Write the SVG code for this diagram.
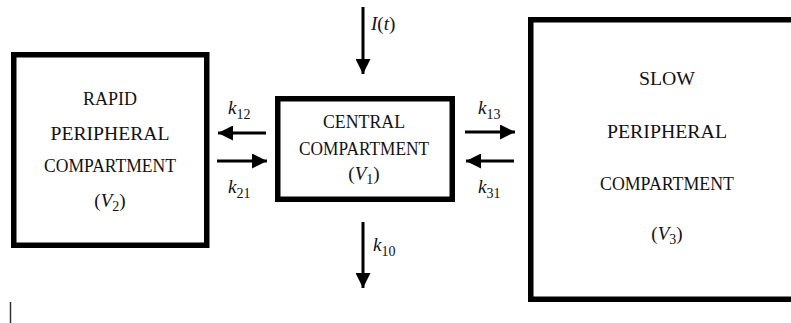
<svg xmlns="http://www.w3.org/2000/svg" width="791" height="323" viewBox="0 0 791 323" font-family="Liberation Serif, DejaVu Serif, serif">
<defs>
<marker id="ah" markerWidth="5" markerHeight="5" refX="5" refY="2.5" orient="auto" markerUnits="strokeWidth">
<path d="M0,0 L5,2.5 L0,5 Z" fill="#000"/>
</marker>
<style>
.box{fill:#fff;stroke:#000;stroke-width:5.5}
.t{font-size:19px;fill:#111;text-anchor:middle}
.lbl{font-size:19px;fill:#111}
.sub{font-size:14px;font-style:normal}
.i{font-style:italic}
.arr{stroke:#000;stroke-width:3;fill:none;marker-end:url(#ah)}
</style>
</defs>
<rect width="791" height="323" fill="#fff"/>
<g id="rapid" font-family="Liberation Serif, serif">
<rect class="box" x="13.75" y="54.75" width="193" height="190.5"/>
<text class="t" font-family="Liberation Serif" x="110" y="105" textLength="54" lengthAdjust="spacingAndGlyphs">RAPID</text>
<text class="t" font-family="Liberation Serif" x="110" y="140" textLength="119" lengthAdjust="spacingAndGlyphs">PERIPHERAL</text>
<text class="t" font-family="Liberation Serif" x="110" y="172" textLength="132" lengthAdjust="spacingAndGlyphs">COMPARTMENT</text>
<text class="t" font-family="Liberation Serif" x="110" y="207">(<tspan class="i">V</tspan><tspan font-size="14" dy="4">2</tspan><tspan dy="-4">)</tspan></text>
</g>
<g id="central" font-family="Liberation Serif, serif">
<rect class="box" x="277.75" y="98.75" width="174.5" height="100.5"/>
<text class="t" font-family="Liberation Serif" x="364" y="128" textLength="82" lengthAdjust="spacingAndGlyphs">CENTRAL</text>
<text class="t" font-family="Liberation Serif" x="364" y="155" textLength="130" lengthAdjust="spacingAndGlyphs">COMPARTMENT</text>
<text class="t" font-family="Liberation Serif" x="364" y="180">(<tspan class="i">V</tspan><tspan font-size="14" dy="4">1</tspan><tspan dy="-4">)</tspan></text>
</g>
<g id="slow" font-family="Liberation Serif, serif">
<rect class="box" x="530.75" y="19.75" width="280" height="279.5"/>
<text class="t" font-family="Liberation Serif" x="667" y="85" textLength="56" lengthAdjust="spacingAndGlyphs">SLOW</text>
<text class="t" font-family="Liberation Serif" x="667" y="138" textLength="120" lengthAdjust="spacingAndGlyphs">PERIPHERAL</text>
<text class="t" font-family="Liberation Serif" x="667" y="190" textLength="134" lengthAdjust="spacingAndGlyphs">COMPARTMENT</text>
<text class="t" font-family="Liberation Serif" x="667" y="240">(<tspan class="i">V</tspan><tspan font-size="14" dy="4">3</tspan><tspan dy="-4">)</tspan></text>
</g>
<g id="connectors">
<line class="arr" x1="363" y1="7" x2="363" y2="74"/>
<line class="arr" x1="363" y1="222" x2="363" y2="288"/>
<line class="arr" x1="266" y1="133" x2="218" y2="133"/>
<line class="arr" x1="217" y1="161" x2="267" y2="161"/>
<line class="arr" x1="465" y1="132" x2="515" y2="132"/>
<line class="arr" x1="514" y1="161" x2="466" y2="161"/>
<line x1="10.5" y1="302" x2="10.5" y2="323" stroke="#333" stroke-width="1.5"/>
</g>
<g id="labels" font-family="Liberation Serif, serif">
<text class="lbl" font-family="Liberation Serif" x="371" y="30"><tspan class="i">I</tspan>(<tspan class="i">t</tspan>)</text>
<text class="lbl" font-family="Liberation Serif" x="373" y="251"><tspan class="i">k</tspan><tspan class="sub" dy="5">10</tspan></text>
<text class="lbl" font-family="Liberation Serif" x="228" y="114"><tspan class="i">k</tspan><tspan class="sub" dy="5">12</tspan></text>
<text class="lbl" font-family="Liberation Serif" x="228" y="193"><tspan class="i">k</tspan><tspan class="sub" dy="5">21</tspan></text>
<text class="lbl" font-family="Liberation Serif" x="478" y="114"><tspan class="i">k</tspan><tspan class="sub" dy="5">13</tspan></text>
<text class="lbl" font-family="Liberation Serif" x="478" y="193"><tspan class="i">k</tspan><tspan class="sub" dy="5">31</tspan></text>
</g>
</svg>
